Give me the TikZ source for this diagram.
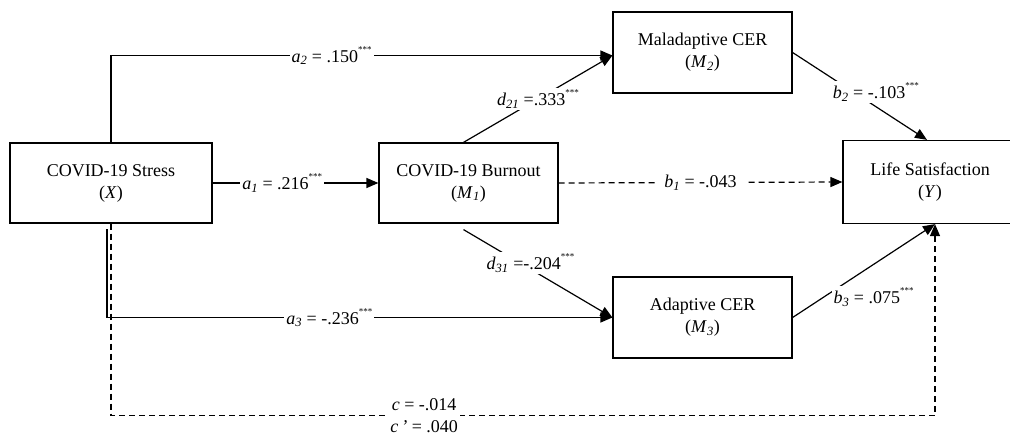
\documentclass[tikz,border=0pt]{standalone}
\usepackage{fontspec}
\setmainfont{Liberation Serif}
\usetikzlibrary{arrows.meta}

\newcommand{\coef}[2]{\textit{#1}\textsubscript{\textit{#2}}}
\newcommand{\sig}{\raisebox{1.2ex}{\fontsize{9}{9}\selectfont ***}}

\tikzset{
  varbox/.style={draw, line width=1.2pt, align=center, inner sep=0pt,
    font=\fontsize{18}{22}\selectfont},
  pathlabel/.style={fill=white, inner sep=2pt, font=\fontsize{18}{22}\selectfont},
  effect/.style={line width=1.2pt, -{Triangle[length=12pt,width=10pt]}},
  noeffect/.style={effect, dash pattern=on 6pt off 4pt}
}

\begin{document}
\begin{tikzpicture}[x=1pt, y=-1pt]
\useasboundingbox (0, 0) rectangle (1010, 436);
\clip (0, 0) rectangle (1010, 436);

\node (stress) at (111, 183) [varbox, minimum width=202pt, minimum height=80pt] {COVID-19 Stress\\(\textit{X})};
\node (burnout) at (468.5, 183) [varbox, minimum width=179pt, minimum height=80pt] {COVID-19 Burnout\\(\coef{M}{1})};
\node (malcer) at (702.5, 52.5) [varbox, minimum width=179pt, minimum height=81pt] {Maladaptive CER\\(\coef{M}{2})};
\node (adacer) at (702.5, 317.5) [varbox, minimum width=179pt, minimum height=81pt] {Adaptive CER\\(\coef{M}{3})};
\node (lifesat) at (930, 182) [varbox, minimum width=174pt, minimum height=83pt] {Life Satisfaction\\(\textit{Y})};

\coordinate (a3start) at (107, 229);

% direct paths from X
\draw [noeffect] (stress.south) -- ++(0, 192) -| node [pathlabel, pos=0.19, align=center] {\textit{c} = -.014\\\textit{c\,'} = .040} ([xshift=5pt]lifesat.south);
\draw [effect] (stress.east) -- node [pathlabel, pos=0.42] {\coef{a}{1} = .216\sig} (burnout.west);
\draw [effect] (stress.north) |- node [pathlabel, pos=0.72] {\coef{a}{2} = .150\sig} ([yshift=-3pt]malcer.west);
\draw [effect] (a3start) |- node [pathlabel, pos=0.72] {\coef{a}{3} = -.236\sig} (adacer.west);

% paths from M1
\draw [effect] ([xshift=-5pt]burnout.north) -- node [pathlabel] {\coef{d}{21} =.333\sig} ([yshift=-3pt]malcer.west);
\draw [effect] ([xshift=-5pt, yshift=-6pt]burnout.south) -- node [pathlabel, pos=0.45, yshift=6pt] {\coef{d}{31} =-.204\sig} (adacer.west);
\draw [noeffect] (burnout.east) -- node [pathlabel, inner xsep=8pt] {\coef{b}{1} = -.043} (lifesat.west);

% paths to Y
\draw [effect] (malcer.east) -- node [pathlabel, pos=0.5, xshift=16pt, yshift=4pt] {\coef{b}{2} = -.103\sig} ([xshift=-3pt]lifesat.north);
\draw [effect] (adacer.east) -- node [pathlabel, pos=0.27, anchor=west, yshift=-5pt] {\coef{b}{3} = .075\sig} ([xshift=5pt]lifesat.south);
\end{tikzpicture}
\end{document}
